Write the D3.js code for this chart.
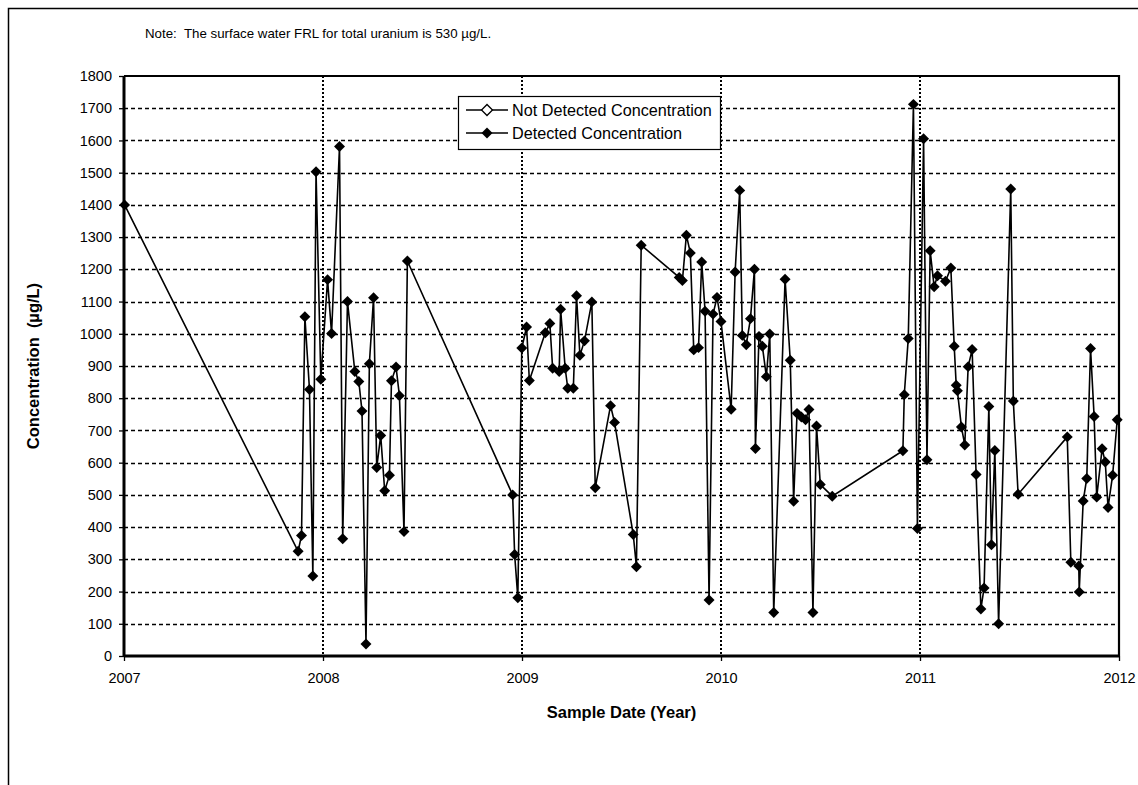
<!DOCTYPE html>
<html>
<head>
<meta charset="utf-8">
<script src="https://cdn.jsdelivr.net/npm/d3@7"></script>
<style>
  html, body { margin: 0; padding: 0; background: #fff; }
  svg { display: block; }
  text { font-family: "Liberation Sans", Arial, sans-serif; fill: #000; white-space: pre; }
</style>
</head>
<body>
<svg id="chart" width="1138" height="785"></svg>
<script>
// ---------------- DATA ----------------
// Sample dates (decimal years) of detected total uranium results
const detectedDates = [
  2007.003, 2007.875, 2007.892, 2007.909, 2007.932, 2007.949, 2007.965, 2007.989,
  2008.023, 2008.043, 2008.083, 2008.099, 2008.123, 2008.160, 2008.180, 2008.196,
  2008.216, 2008.233, 2008.254, 2008.270, 2008.290, 2008.310, 2008.334, 2008.344,
  2008.367, 2008.384, 2008.407, 2008.424,
  2008.953, 2008.963, 2008.979, 2008.999, 2009.023, 2009.037, 2009.117, 2009.140,
  2009.154, 2009.187, 2009.194, 2009.217, 2009.230, 2009.258, 2009.274, 2009.291,
  2009.314, 2009.351, 2009.368, 2009.445, 2009.465, 2009.559, 2009.575, 2009.599,
  2009.790, 2009.806, 2009.826, 2009.846, 2009.863, 2009.887, 2009.903, 2009.920,
  2009.940, 2009.960, 2009.980, 2010.000,
  2010.051, 2010.071, 2010.094, 2010.107, 2010.127, 2010.148, 2010.168, 2010.173,
  2010.191, 2010.208, 2010.228, 2010.245, 2010.265, 2010.322, 2010.348, 2010.365,
  2010.382, 2010.404, 2010.425, 2010.442, 2010.462, 2010.480, 2010.499, 2010.559,
  2010.914, 2010.921, 2010.941, 2010.967, 2010.987, 2011.018, 2011.035, 2011.051,
  2011.071, 2011.088, 2011.128, 2011.155, 2011.172, 2011.182, 2011.188, 2011.208,
  2011.225, 2011.242, 2011.262, 2011.282, 2011.306, 2011.322, 2011.346, 2011.359,
  2011.376, 2011.395, 2011.456, 2011.469, 2011.493,
  2011.740, 2011.758, 2011.798, 2011.800, 2011.820, 2011.838, 2011.857, 2011.875,
  2011.888, 2011.915, 2011.931, 2011.945, 2011.968, 2011.991
];
// Concentrations (µg/L)
const detectedValues = [
  1400, 325, 374, 1053, 827, 248, 1503, 859,
  1168, 1001, 1581, 364, 1100, 883, 852, 760,
  37, 907, 1112, 585, 684, 513, 561, 854,
  897, 808, 386, 1226,
  500, 315, 181, 956, 1021, 855, 1003, 1032,
  893, 883, 1076, 893, 831, 831, 1118, 933,
  978, 1099, 522, 777, 725, 377, 277, 1275,
  1175, 1165, 1306, 1251, 950, 957, 1223, 1070,
  174, 1061, 1113, 1038,
  766, 1192, 1445, 995, 966, 1047, 1200, 644,
  992, 961, 867, 999, 135, 1169, 918, 480,
  753, 742, 733, 765, 135, 714, 532, 496,
  637, 811, 985, 1712, 396, 1605, 609, 1258,
  1146, 1180, 1163, 1204, 961, 840, 823, 711,
  655, 898, 951, 563, 146, 211, 774, 345,
  638, 100, 1449, 791, 502,
  680, 291, 279, 199, 481, 551, 954, 743,
  493, 643, 602, 461, 561, 733
];
// No non-detect results appear in the period shown
const notDetectedDates = [];
const notDetectedValues = [];

const yTickValues = [0,100,200,300,400,500,600,700,800,900,1000,1100,1200,1300,1400,1500,1600,1700,1800];
const xTickValues = [2007, 2008, 2009, 2010, 2011, 2012];
const legendLabels = ["Not Detected Concentration", "Detected Concentration"];
const noteText = "Note:  The surface water FRL for total uranium is 530 \u00b5g/L.";
const xTitle = "Sample Date (Year)";
const yTitle = "Concentration  (\u00b5g/L)";

// ---------------- CHART ----------------
const svg = d3.select("#chart");
const m = {left: 124, right: 1119, top: 76, bottom: 656};

const x = d3.scaleLinear().domain([2007, 2012]).range([m.left, m.right]);
const y = d3.scaleLinear().domain([0, 1800]).range([m.bottom, m.top]);

// outer frame (extends beyond the window on right / bottom)
svg.append("path")
  .attr("d", `M8.5,800 L8.5,8.5 L1150,8.5`)
  .attr("fill", "none").attr("stroke", "#000").attr("stroke-width", 1.5);

// note
svg.append("text").attr("x", 145).attr("y", 38)
  .attr("font-size", 13.3).text(noteText);

// horizontal dashed grid
svg.append("g").selectAll("line")
  .data(yTickValues.filter(v => v > 0 && v < 1800))
  .join("line")
  .attr("x1", m.left).attr("x2", m.right)
  .attr("y1", d => Math.round(y(d)) + 0.5).attr("y2", d => Math.round(y(d)) + 0.5)
  .attr("stroke", "#000").attr("stroke-width", 1.4)
  .attr("stroke-dasharray", "4,3");

// vertical dotted year lines
svg.append("g").selectAll("line")
  .data(xTickValues.filter(v => v > 2007 && v < 2012))
  .join("line")
  .attr("x1", d => x(d)).attr("x2", d => x(d))
  .attr("y1", m.top).attr("y2", m.bottom)
  .attr("stroke", "#000").attr("stroke-width", 2)
  .attr("stroke-dasharray", "2,2");

// plot border top/right
svg.append("path")
  .attr("d", `M${m.left},${m.top} L${m.right},${m.top} L${m.right},${m.bottom}`)
  .attr("fill", "none").attr("stroke", "#000").attr("stroke-width", 2.2);

// axes
const yAxis = d3.axisLeft(y).tickValues(yTickValues).tickSize(5).tickPadding(7).tickFormat(d3.format("d"));
const gy = svg.append("g").attr("transform", `translate(${m.left},0)`).call(yAxis);
gy.select(".domain").attr("stroke-width", 3).attr("d", `M0,${m.top}V${m.bottom}`);
gy.selectAll(".tick line").attr("stroke-width", 1.3);
gy.selectAll(".tick text").attr("font-size", 14.5).attr("font-family", "Liberation Sans, Arial, sans-serif");

const xAxis = d3.axisBottom(x).tickValues(xTickValues).tickSize(5).tickPadding(12).tickFormat(d3.format("d"));
const gx = svg.append("g").attr("transform", `translate(0,${m.bottom})`).call(xAxis);
gx.select(".domain").attr("stroke-width", 3).attr("d", `M${m.left},0H${m.right}`);
gx.selectAll(".tick line").attr("stroke-width", 1.3);
gx.selectAll(".tick text").attr("font-size", 14.5).attr("font-family", "Liberation Sans, Arial, sans-serif");

// axis titles
svg.append("text").attr("x", (m.left + m.right) / 2).attr("y", 718)
  .attr("text-anchor", "middle").attr("font-size", 16.5).attr("font-weight", "bold").text(xTitle);
svg.append("text").attr("transform", `translate(39,${(m.top + m.bottom) / 2}) rotate(-90)`)
  .attr("text-anchor", "middle").attr("font-size", 16.5).attr("font-weight", "bold").text(yTitle);

// data
const detected = detectedDates.map((d, i) => ({date: d, value: detectedValues[i]}));
const notDetected = notDetectedDates.map((d, i) => ({date: d, value: notDetectedValues[i]}));

const line = d3.line().x(d => x(d.date)).y(d => y(d.value));
svg.append("path").datum(detected)
  .attr("d", line).attr("fill", "none").attr("stroke", "#000").attr("stroke-width", 1.6)
  .attr("stroke-linejoin", "miter");

const diamond = d3.symbol().type(d3.symbolSquare).size(60);
svg.append("g").selectAll("path")
  .data(detected).join("path")
  .attr("d", diamond)
  .attr("transform", d => `translate(${x(d.date)},${y(d.value)}) rotate(45)`)
  .attr("fill", "#000");

svg.append("g").selectAll("path")
  .data(notDetected).join("path")
  .attr("d", diamond)
  .attr("transform", d => `translate(${x(d.date)},${y(d.value)}) rotate(45)`)
  .attr("fill", "#fff").attr("stroke", "#000").attr("stroke-width", 1.2);

// legend
const lg = svg.append("g").attr("transform", "translate(458,96)");
lg.append("rect").attr("x", 0.5).attr("y", 0.5).attr("width", 262).attr("height", 53)
  .attr("fill", "#fff").attr("stroke", "#000").attr("stroke-width", 1.2);
legendLabels.forEach((lab, i) => {
  const cy = 14 + i * 23;
  lg.append("line").attr("x1", 8).attr("x2", 50).attr("y1", cy).attr("y2", cy)
    .attr("stroke", "#000").attr("stroke-width", 1.6);
  lg.append("path").attr("d", diamond)
    .attr("transform", `translate(29,${cy}) rotate(45)`)
    .attr("fill", i === 0 ? "#fff" : "#000")
    .attr("stroke", "#000").attr("stroke-width", i === 0 ? 1.3 : 0);
  lg.append("text").attr("x", 54).attr("y", cy + 5.5).attr("font-size", 16.2).text(lab);
});
</script>
</body>
</html>
